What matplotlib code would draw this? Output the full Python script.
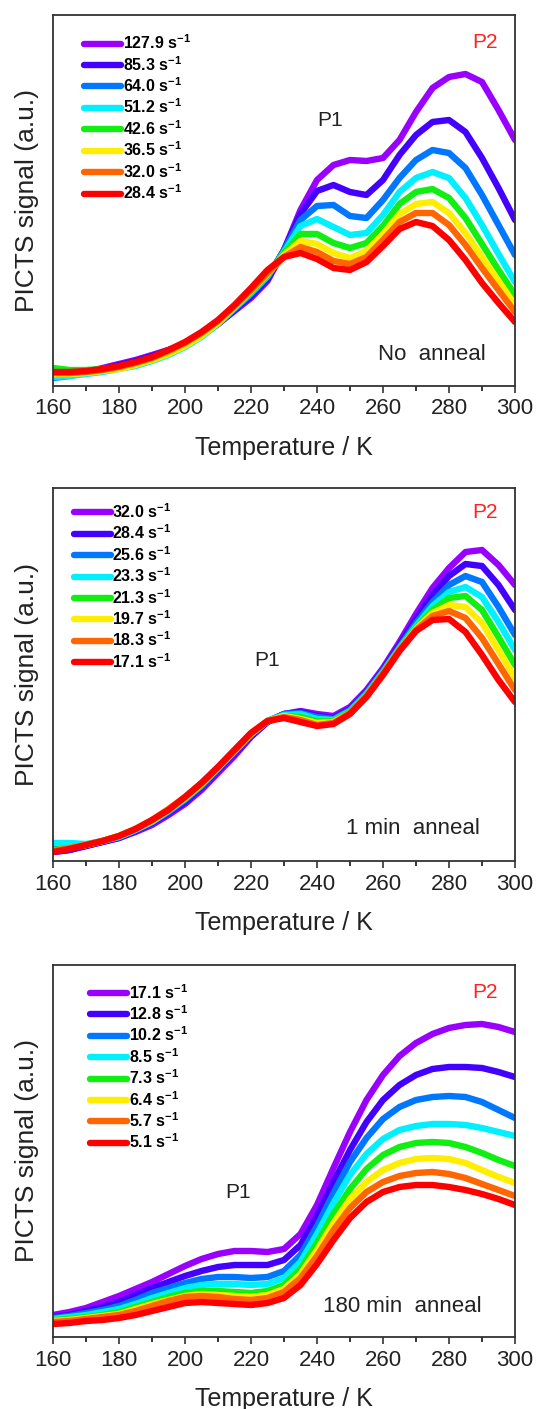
import matplotlib
matplotlib.use("Agg")
import matplotlib.pyplot as plt
from matplotlib.ticker import MultipleLocator

plt.rcParams['font.family'] = ['Liberation Sans', 'DejaVu Sans']
plt.rcParams['mathtext.fontset'] = 'custom'
plt.rcParams['mathtext.rm'] = 'Liberation Sans'
plt.rcParams['mathtext.bf'] = 'Liberation Sans:bold'

T = list(range(160, 305, 5))
colors = ['#9900FF', '#4400FF', '#0077FF', '#00F0FF', '#11EE11', '#FFEE00', '#FF6600', '#FF0000']

# ---------- Panel 1: No anneal ----------
rates1 = ['127.9', '85.3', '64.0', '51.2', '42.6', '36.5', '32.0', '28.4']
p1_purple = [10, 11, 14, 18, 22, 26, 31, 36, 42, 51, 62, 75, 88, 105, 136, 176, 206, 221, 226, 225, 228, 246, 274, 298, 309, 312, 304, 276, 246]
p1_violet = [9, 11, 14, 17, 21, 25, 30, 36, 42, 51, 62, 76, 90, 107, 136, 172, 195, 201, 194, 191, 206, 231, 251, 264, 266, 254, 228, 198, 166]
p1_azure = [8, 10, 13, 16, 19, 23, 27, 33, 40, 50, 62, 77, 92, 109, 136, 166, 180, 181, 170, 168, 186, 208, 226, 236, 233, 218, 191, 161, 131]
p1_cyan = [9, 10, 12, 14, 17, 20, 25, 31, 39, 49, 62, 78, 93, 110, 134, 160, 167, 159, 151, 153, 171, 194, 208, 214, 208, 188, 161, 132, 104]
p1_green = [18, 16, 16, 17, 19, 23, 28, 35, 42, 52, 64, 79, 94, 111, 133, 152, 152, 143, 138, 143, 160, 182, 194, 197, 188, 168, 142, 116, 91]
p1_yellow = [12, 12, 13, 15, 17, 21, 26, 32, 40, 50, 63, 79, 95, 112, 131, 145, 142, 133, 128, 135, 152, 172, 182, 184, 173, 153, 129, 105, 81]
p1_orange = [13, 13, 14, 16, 19, 23, 28, 35, 43, 53, 65, 80, 96, 113, 129, 139, 134, 125, 122, 129, 146, 164, 173, 173, 161, 141, 118, 96, 74]
p1_red = [14, 14, 15, 17, 20, 24, 29, 36, 44, 54, 66, 81, 98, 116, 129, 133, 127, 118, 116, 124, 140, 157, 164, 160, 146, 126, 103, 83, 64]
panel1 = [p1_purple, p1_violet, p1_azure, p1_cyan, p1_green, p1_yellow, p1_orange, p1_red]

# ---------- Panel 2: 1 min anneal ----------
rates2 = ['32.0', '28.4', '25.6', '23.3', '21.3', '19.7', '18.3', '17.1']
p2_purple = [9, 11, 15, 19, 23, 29, 36, 46, 57, 71, 88, 105, 124, 139, 147, 150, 147, 145, 154, 171, 193, 219, 247, 273, 293, 309, 311, 296, 276]
p2_violet = [9, 11, 15, 19, 23, 30, 38, 48, 59, 74, 91, 108, 125, 139, 147, 149, 145, 143, 152, 169, 191, 216, 242, 266, 285, 297, 295, 276, 251]
p2_azure = [15, 15, 16, 20, 24, 31, 39, 49, 61, 75, 92, 109, 126, 140, 147, 148, 144, 142, 151, 168, 190, 214, 238, 259, 276, 285, 279, 254, 226]
p2_cyan = [18, 18, 17, 20, 24, 31, 39, 50, 62, 76, 93, 110, 127, 140, 146, 147, 142, 141, 150, 167, 189, 213, 235, 255, 269, 274, 264, 239, 211]
p2_green = [11, 13, 16, 20, 25, 32, 40, 51, 63, 76, 93, 110, 127, 140, 145, 144, 140, 140, 149, 166, 188, 212, 233, 251, 263, 265, 251, 224, 196]
p2_yellow = [10, 13, 16, 20, 25, 32, 40, 51, 63, 77, 93, 110, 127, 140, 145, 142, 138, 139, 148, 165, 187, 211, 232, 248, 256, 254, 238, 211, 183]
p2_orange = [10, 13, 16, 20, 25, 32, 41, 52, 64, 78, 94, 111, 128, 140, 144, 141, 136, 138, 148, 165, 187, 211, 231, 245, 250, 243, 223, 197, 171]
p2_red = [9, 12, 16, 20, 25, 32, 41, 51, 64, 78, 94, 111, 128, 140, 143, 139, 135, 137, 147, 164, 186, 210, 230, 241, 242, 229, 206, 181, 159]
panel2 = [p2_purple, p2_violet, p2_azure, p2_cyan, p2_green, p2_yellow, p2_orange, p2_red]

# ---------- Panel 3: 180 min anneal ----------
rates3 = ['17.1', '12.8', '10.2', '8.5', '7.3', '6.4', '5.7', '5.1']
p3_purple = [22, 25, 29, 35, 41, 48, 55, 63, 71, 78, 83, 86, 86, 85, 88, 103, 132, 169, 205, 237, 262, 281, 294, 303, 309, 312, 313, 310, 305]
p3_violet = [20, 22, 26, 30, 35, 42, 49, 55, 61, 66, 70, 72, 72, 72, 77, 92, 121, 155, 187, 215, 237, 252, 262, 268, 270, 270, 269, 265, 260]
p3_azure = [19, 21, 24, 27, 31, 37, 44, 49, 54, 58, 60, 60, 59, 60, 66, 82, 111, 144, 175, 199, 218, 230, 237, 240, 241, 240, 235, 227, 219]
p3_cyan = [18, 20, 22, 25, 28, 33, 39, 44, 49, 52, 53, 53, 52, 53, 59, 75, 103, 134, 162, 183, 198, 207, 211, 213, 213, 212, 209, 205, 201]
p3_green = [17, 18, 20, 22, 25, 30, 35, 40, 44, 46, 46, 45, 44, 46, 52, 68, 94, 123, 148, 168, 182, 190, 194, 195, 194, 190, 184, 177, 171]
p3_yellow = [16, 17, 19, 21, 23, 28, 33, 37, 41, 43, 42, 41, 40, 42, 48, 63, 87, 114, 138, 155, 167, 174, 178, 179, 178, 174, 167, 160, 154]
p3_orange = [15, 16, 18, 20, 22, 26, 31, 36, 40, 41, 40, 38, 37, 39, 45, 59, 81, 107, 129, 145, 155, 161, 164, 165, 163, 159, 153, 147, 141]
p3_red = [13, 14, 16, 17, 19, 22, 26, 30, 34, 35, 34, 33, 32, 34, 39, 52, 73, 97, 119, 135, 145, 150, 152, 152, 150, 147, 143, 138, 132]
panel3 = [p3_purple, p3_violet, p3_azure, p3_cyan, p3_green, p3_yellow, p3_orange, p3_red]

panels = [
    dict(rect=[53/537, 1-386/1409, 462/537, 371/1409], ymax=371, data=panel1, rates=rates1,
         leg=(0.067, 0.950), p1=(244, 266), p2=(291, 344), note=(274.8, 31), note_text='No  anneal'),
    dict(rect=[53/537, 1-861/1409, 462/537, 373/1409], ymax=373, data=panel2, rates=rates2,
         leg=(0.045, 0.962), p1=(225, 201), p2=(291, 349), note=(269.2, 32), note_text='1 min  anneal'),
    dict(rect=[53/537, 1-1337/1409, 462/537, 372/1409], ymax=372, data=panel3, rates=rates3,
         leg=(0.080, 0.952), p1=(216, 145), p2=(291, 345), note=(266, 30), note_text='180 min  anneal'),
]

fig = plt.figure(figsize=(5.37, 14.09), dpi=100)
for p in panels:
    ax = fig.add_axes(p['rect'])
    for y, c, r in zip(p['data'], colors, p['rates']):
        ax.plot(T, y, color=c, lw=4.6, solid_capstyle='round', solid_joinstyle='round',
                label=r'%s s$^{\mathbf{-1}}$' % r)
    ax.set_xlim(160, 300)
    ax.set_ylim(0, p['ymax'])
    ax.xaxis.set_major_locator(MultipleLocator(20))
    ax.xaxis.set_minor_locator(MultipleLocator(10))
    ax.tick_params(axis='x', which='major', direction='out', length=5, width=1.1,
                   labelsize=16, colors='#222222', pad=4)
    ax.tick_params(axis='x', which='minor', direction='out', length=3.5, width=1.1)
    ax.set_yticks([])
    for s in ax.spines.values():
        s.set_linewidth(1.3)
        s.set_color('#333333')
    ax.set_xlabel('Temperature / K', fontsize=18, color='#222222', labelpad=12)
    ax.set_ylabel('PICTS signal (a.u.)', fontsize=19, color='#222222', labelpad=10)
    leg = ax.legend(loc='upper left', bbox_to_anchor=p['leg'], frameon=False,
                    prop=dict(weight='bold', size=11.5), handlelength=2.3,
                    handletextpad=0.12, labelspacing=0.17, borderpad=0, borderaxespad=0)
    for h in leg.get_lines():
        h.set_linewidth(4.6)
    ax.text(*p['p1'], 'P1', fontsize=15, ha='center', va='center', color='#222222')
    ax.text(*p['p2'], 'P2', fontsize=15, ha='center', va='center', color='#FF2020')
    ax.text(*p['note'], p['note_text'], fontsize=16, ha='center', va='center', color='#222222')

fig.savefig('out.png', dpi=100)
